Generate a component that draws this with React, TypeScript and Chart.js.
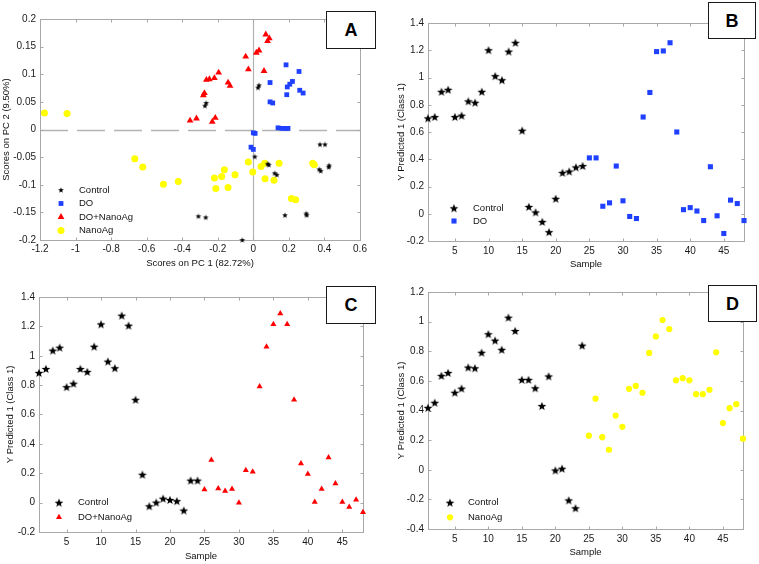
import React, { useEffect, useRef } from 'react';
import { Chart, registerables } from 'chart.js';
Chart.register(...registerables);

const FONT = '"Liberation Sans", Arial, Helvetica, sans-serif';

// ---------- Panel A (PCA scores) ----------
const A_CONTROL_X = [0.026, 0.032, -0.272, -0.265, 0.375, 0.403, 0.008, 0.081, 0.087, 0.12, 0.132, 0.371, 0.379, 0.424, 0.426, -0.309, -0.268, 0.178, 0.298, 0.3, -0.062];
const A_CONTROL_Y = [0.076, 0.08, 0.043, 0.048, -0.027, -0.027, -0.049, -0.062, -0.064, -0.079, -0.082, -0.072, -0.075, -0.068, -0.065, -0.157, -0.159, -0.155, -0.152, -0.155, -0.2];
const A_DO_X = [0.184, 0.257, 0.094, 0.22, 0.205, 0.191, 0.261, 0.28, 0.188, 0.094, 0.109, 0.139, 0.16, 0.18, 0.195, 0.0, 0.01, -0.013, 0.0];
const A_DO_Y = [0.117, 0.105, 0.085, 0.087, 0.082, 0.077, 0.071, 0.066, 0.063, 0.05, 0.048, 0.003, 0.002, 0.002, 0.002, -0.006, -0.007, -0.032, -0.036];
const A_DONANO_X = [0.07, 0.09, 0.08, 0.032, 0.017, -0.043, -0.028, 0.06, -0.195, -0.264, -0.247, -0.219, -0.142, -0.131, -0.281, -0.275, -0.356, -0.32, -0.231, -0.214];
const A_DONANO_Y = [0.172, 0.165, 0.16, 0.143, 0.139, 0.132, 0.109, 0.106, 0.103, 0.09, 0.091, 0.093, 0.085, 0.079, 0.062, 0.066, 0.016, 0.02, 0.014, 0.021];
const A_NANO_X = [-1.175, -1.048, -0.667, -0.622, -0.506, -0.422, -0.028, -0.003, 0.043, 0.064, 0.145, 0.066, 0.116, -0.163, -0.178, -0.219, -0.103, -0.211, -0.142, 0.334, 0.343, 0.214, 0.238];
const A_NANO_Y = [0.03, 0.029, -0.053, -0.068, -0.099, -0.094, -0.059, -0.077, -0.067, -0.061, -0.061, -0.089, -0.092, -0.073, -0.085, -0.088, -0.082, -0.107, -0.105, -0.061, -0.064, -0.125, -0.127];
const A_X_TICKS = [-1.2, -1, -0.8, -0.6, -0.4, -0.2, 0, 0.2, 0.4, 0.6];
const A_Y_TICKS = [-0.2, -0.15, -0.1, -0.05, 0, 0.05, 0.1, 0.15, 0.2];

// ---------- Panels B, C, D (Y predicted by sample) ----------
const CONTROL_SAMPLE_START = 1;
const TREAT_SAMPLE_START = 25;
const B_CONTROL = [0.70, 0.71, 0.895, 0.91, 0.71, 0.72, 0.825, 0.815, 0.895, 1.2, 1.01, 0.98, 1.19, 1.255, 0.61, 0.05, 0.01, -0.06, -0.135, 0.11, 0.30, 0.31, 0.34, 0.35];
const B_DO = [0.41, 0.41, 0.055, 0.08, 0.35, 0.095, -0.02, -0.035, 0.71, 0.89, 1.19, 1.195, 1.255, 0.60, 0.03, 0.045, 0.02, -0.05, 0.345, -0.015, -0.145, 0.10, 0.075, -0.05];
const C_CONTROL = [0.883, 0.91, 1.035, 1.055, 0.786, 0.81, 0.91, 0.89, 1.062, 1.214, 0.96, 0.915, 1.273, 1.205, 0.70, 0.19, -0.025, 0.0, 0.027, 0.018, 0.01, -0.054, 0.15, 0.15];
const C_DONANO = [0.09, 0.29, 0.097, 0.08, 0.093, 0.0, 0.22, 0.21, 0.79, 1.062, 1.214, 1.287, 1.214, 0.70, 0.267, 0.195, 0.005, 0.093, 0.308, 0.13, 0.005, -0.03, 0.02, -0.065];
const D_CONTROL = [0.418, 0.452, 0.634, 0.654, 0.52, 0.548, 0.69, 0.685, 0.79, 0.915, 0.872, 0.81, 1.027, 0.937, 0.607, 0.607, 0.55, 0.43, 0.63, -0.005, 0.007, -0.207, -0.26, 0.838];
const D_NANO = [0.23, 0.48, 0.22, 0.135, 0.366, 0.29, 0.546, 0.566, 0.52, 0.789, 0.90, 1.011, 0.95, 0.604, 0.618, 0.604, 0.51, 0.51, 0.54, 0.793, 0.315, 0.416, 0.443, 0.21];
const SAMPLE_TICKS = [5, 10, 15, 20, 25, 30, 35, 40, 45];
const BC_Y_TICKS = [-0.2, 0, 0.2, 0.4, 0.6, 0.8, 1, 1.2, 1.4];
const D_Y_TICKS = [-0.4, -0.2, 0, 0.2, 0.4, 0.6, 0.8, 1, 1.2];

const BLACK = '#000000';
const BLUE = '#2040ff';
const RED = '#ff0000';
const YELLOW = '#ffff00';

type Style = 'star' | 'rect' | 'triangle' | 'circle';
interface Series { label: string; style: Style; color: string; r: number; pts: { x: number; y: number }[] }

const zipXY = (xs: number[], ys: number[]) => xs.map((x, i) => ({ x, y: ys[i] }));
const bySample = (vals: number[], start: number) => vals.map((y, i) => ({ x: start + i, y }));

const starCache: Record<string, HTMLCanvasElement> = {};
function starImg(outer: number, color: string) {
  const key = outer + color;
  if (starCache[key]) return starCache[key];
  const inner = outer * 0.42;
  const size = Math.ceil(outer * 2 + 2);
  const c = document.createElement('canvas');
  c.width = size;
  c.height = size;
  const g = c.getContext('2d')!;
  g.fillStyle = color;
  g.beginPath();
  for (let i = 0; i < 10; i++) {
    const r = i % 2 === 0 ? outer : inner;
    const a = -Math.PI / 2 + (i * Math.PI) / 5;
    const px = size / 2 + r * Math.cos(a);
    const py = size / 2 + r * Math.sin(a) + outer * 0.08;
    if (i === 0) g.moveTo(px, py);
    else g.lineTo(px, py);
  }
  g.closePath();
  g.fill();
  starCache[key] = c;
  return c;
}

function drawMarker(ctx: CanvasRenderingContext2D, s: Series, x: number, y: number) {
  ctx.fillStyle = s.color;
  if (s.style === 'star') {
    const img = starImg(s.r, s.color);
    ctx.drawImage(img, x - img.width / 2, y - img.height / 2);
  } else if (s.style === 'rect') {
    const h = Math.SQRT1_2 * s.r;
    ctx.fillRect(x - h, y - h, 2 * h, 2 * h);
  } else if (s.style === 'triangle') {
    ctx.beginPath();
    for (let i = 0; i < 3; i++) {
      const a = (i * 2 * Math.PI) / 3;
      const px = x + Math.sin(a) * s.r;
      const py = y - Math.cos(a) * s.r;
      if (i === 0) ctx.moveTo(px, py);
      else ctx.lineTo(px, py);
    }
    ctx.closePath();
    ctx.fill();
  } else {
    ctx.beginPath();
    ctx.arc(x, y, s.r, 0, Math.PI * 2);
    ctx.fill();
  }
}

interface PanelCfg {
  id: string;
  letter: string;
  left: number; top: number; w: number; h: number;
  pad: { left: number; top: number; right: number; bottom: number };
  yW: number; xH: number;
  xMin: number; xMax: number; yMin: number; yMax: number;
  xTicks: number[]; yTicks: number[];
  xTitle: string; yTitle: string;
  xTitlePad: number; yTitlePad: number; xTickPad: number;
  series: Series[];
  legend: { mx: number; tx: number; rows: number[] };
  zeroLines?: boolean;
  box: { left: number; top: number; w: number; h: number };
}

const fmt = (v: number) => String(Math.round(v * 100) / 100);

const framePlugin = {
  id: 'frame',
  beforeDatasetsDraw(chart: any, _args: any, opts: any) {
    const { ctx, chartArea: a, scales } = chart;
    ctx.save();
    if (opts.zeroLines) {
      const y0 = Math.round(scales.y.getPixelForValue(0)) + 0.5;
      const x0 = Math.round(scales.x.getPixelForValue(0)) + 0.5;
      ctx.strokeStyle = '#b4b4b4';
      ctx.lineWidth = 1.6;
      ctx.setLineDash([28, 9]);
      ctx.beginPath();
      ctx.moveTo(a.left, y0);
      ctx.lineTo(a.right, y0);
      ctx.stroke();
      ctx.setLineDash([]);
      ctx.lineWidth = 1.2;
      ctx.beginPath();
      ctx.moveTo(x0, a.top);
      ctx.lineTo(x0, a.bottom);
      ctx.stroke();
    }
    ctx.strokeStyle = '#a8a8a8';
    ctx.lineWidth = 1;
    const L = Math.round(a.left) + 0.5, R = Math.round(a.right) + 0.5;
    const T = Math.round(a.top) + 0.5, B = Math.round(a.bottom) + 0.5;
    ctx.strokeRect(L, T, R - L, B - T);
    ctx.beginPath();
    for (const t of scales.x.ticks) {
      const px = Math.round(scales.x.getPixelForValue(t.value)) + 0.5;
      ctx.moveTo(px, B); ctx.lineTo(px, B - 3);
      ctx.moveTo(px, T); ctx.lineTo(px, T + 3);
    }
    for (const t of scales.y.ticks) {
      const py = Math.round(scales.y.getPixelForValue(t.value)) + 0.5;
      ctx.moveTo(L, py); ctx.lineTo(L + 3, py);
      ctx.moveTo(R, py); ctx.lineTo(R - 3, py);
    }
    ctx.stroke();
    ctx.restore();
  },
  afterDatasetsDraw(chart: any, _args: any, opts: any) {
    const { ctx } = chart;
    const cfg: PanelCfg = opts.cfg;
    if (!cfg) return;
    ctx.save();
    ctx.font = `9.5px ${FONT}`;
    ctx.textBaseline = 'middle';
    ctx.textAlign = 'left';
    cfg.series.forEach((s, i) => {
      const y = cfg.legend.rows[i];
      drawMarker(ctx, s, cfg.legend.mx, y);
      ctx.fillStyle = '#111';
      ctx.fillText(s.label, cfg.legend.tx, y);
    });
    ctx.restore();
  },
};

function Panel({ cfg }: { cfg: PanelCfg }) {
  const ref = useRef<HTMLCanvasElement>(null);
  useEffect(() => {
    const tickFont = { family: FONT, size: 10 };
    const titleFont = { family: FONT, size: 9.5 };
    const chart = new Chart(ref.current!, {
      type: 'scatter',
      data: {
        datasets: cfg.series.map((s) => ({
          label: s.label,
          data: s.pts,
          pointStyle: s.style === 'star' ? starImg(s.r, s.color) : s.style,
          pointRadius: s.r,
          pointHoverRadius: s.r,
          backgroundColor: s.color,
          borderColor: s.color,
          pointBorderWidth: 0,
          borderWidth: 0,
          clip: false,
        })) as any,
      },
      options: {
        responsive: false,
        animation: false,
        events: [],
        devicePixelRatio: 1,
        layout: { padding: cfg.pad },
        plugins: {
          legend: { display: false },
          tooltip: { enabled: false },
          frame: { cfg, zeroLines: !!cfg.zeroLines },
        } as any,
        scales: {
          x: {
            type: 'linear',
            min: cfg.xMin,
            max: cfg.xMax,
            afterBuildTicks: (s: any) => { s.ticks = cfg.xTicks.map((v) => ({ value: v })); },
            afterFit: (s: any) => { s.height = cfg.xH; },
            grid: { display: false, drawTicks: false, tickLength: 0 },
            border: { display: false },
            ticks: { padding: cfg.xTickPad, color: '#1a1a1a', font: tickFont, autoSkip: false, maxRotation: 0, callback: (v: any) => fmt(Number(v)) },
            title: { display: true, text: cfg.xTitle, color: '#111', font: titleFont, padding: { top: 0, bottom: cfg.xTitlePad } },
          },
          y: {
            type: 'linear',
            min: cfg.yMin,
            max: cfg.yMax,
            afterBuildTicks: (s: any) => { s.ticks = cfg.yTicks.map((v) => ({ value: v })); },
            afterFit: (s: any) => { s.width = cfg.yW; },
            grid: { display: false, drawTicks: false, tickLength: 0 },
            border: { display: false },
            ticks: { padding: 4, color: '#1a1a1a', font: tickFont, autoSkip: false, callback: (v: any) => fmt(Number(v)) },
            title: { display: true, text: cfg.yTitle, color: '#111', font: titleFont, padding: { top: cfg.yTitlePad, bottom: 0 } },
          },
        } as any,
      },
      plugins: [framePlugin as any],
    });
    return () => chart.destroy();
  }, [cfg]);
  const b = cfg.box;
  return (
    <>
      <div style={{ position: 'absolute', left: cfg.left, top: cfg.top, width: cfg.w, height: cfg.h }}>
        <canvas ref={ref} width={cfg.w} height={cfg.h} style={{ width: cfg.w, height: cfg.h, display: 'block' }} />
      </div>
      <div
        style={{
          position: 'absolute', left: b.left, top: b.top, width: b.w, height: b.h, boxSizing: 'border-box',
          border: '1.5px solid #1a1a1a', background: '#fff', display: 'flex', alignItems: 'center', justifyContent: 'center',
          fontFamily: FONT, fontWeight: 'bold', fontSize: 18, color: '#000', lineHeight: 1,
        }}
      >
        {cfg.letter}
      </div>
    </>
  );
}

const YP_TITLE = 'Y Predicted 1 (Class 1)';

const PANELS: PanelCfg[] = [
  {
    id: 'A', letter: 'A', left: 0, top: 0, w: 379, h: 282,
    pad: { left: 0, top: 19, right: 19, bottom: 0 }, yW: 40, xH: 42,
    xMin: -1.2, xMax: 0.6, yMin: -0.2, yMax: 0.2, xTicks: A_X_TICKS, yTicks: A_Y_TICKS,
    xTitle: 'Scores on PC 1 (82.72%)', yTitle: 'Scores on PC 2 (9.50%)',
    xTitlePad: 13.3, yTitlePad: 0.3, xTickPad: 3,
    series: [
      { label: 'Control', style: 'star', color: BLACK, r: 3, pts: zipXY(A_CONTROL_X, A_CONTROL_Y) },
      { label: 'DO', style: 'rect', color: BLUE, r: 3.4, pts: zipXY(A_DO_X, A_DO_Y) },
      { label: 'DO+NanoAg', style: 'triangle', color: RED, r: 3.9, pts: zipXY(A_DONANO_X, A_DONANO_Y) },
      { label: 'NanoAg', style: 'circle', color: YELLOW, r: 3.5, pts: zipXY(A_NANO_X, A_NANO_Y) },
    ],
    legend: { mx: 61, tx: 79, rows: [190, 203.5, 217, 230.5] },
    zeroLines: true,
    box: { left: 326, top: 11, w: 50, h: 38 },
  },
  {
    id: 'B', letter: 'B', left: 379, top: 0, w: 380, h: 282,
    pad: { left: 0, top: 23, right: 15, bottom: 0 }, yW: 49, xH: 41,
    xMin: 1, xMax: 48, yMin: -0.2, yMax: 1.4, xTicks: SAMPLE_TICKS, yTicks: BC_Y_TICKS,
    xTitle: 'Sample', yTitle: YP_TITLE, xTitlePad: 12.3, yTitlePad: 16.3, xTickPad: 4,
    series: [
      { label: 'Control', style: 'star', color: BLACK, r: 4.6, pts: bySample(B_CONTROL, CONTROL_SAMPLE_START) },
      { label: 'DO', style: 'rect', color: BLUE, r: 3.6, pts: bySample(B_DO, TREAT_SAMPLE_START) },
    ],
    legend: { mx: 75, tx: 94, rows: [208.3, 221] },
    box: { left: 708, top: 2, w: 48, h: 37 },
  },
  {
    id: 'C', letter: 'C', left: 0, top: 282, w: 379, h: 282,
    pad: { left: 0, top: 15, right: 16, bottom: 0 }, yW: 39, xH: 32,
    xMin: 1, xMax: 48, yMin: -0.2, yMax: 1.4, xTicks: SAMPLE_TICKS, yTicks: BC_Y_TICKS,
    xTitle: 'Sample', yTitle: YP_TITLE, xTitlePad: 2.3, yTitlePad: 4.8, xTickPad: 4,
    series: [
      { label: 'Control', style: 'star', color: BLACK, r: 4.6, pts: bySample(C_CONTROL, CONTROL_SAMPLE_START) },
      { label: 'DO+NanoAg', style: 'triangle', color: RED, r: 3.5, pts: bySample(C_DONANO, TREAT_SAMPLE_START) },
    ],
    legend: { mx: 59, tx: 78, rows: [220.7, 235.3] },
    box: { left: 326, top: 286, w: 50, h: 38 },
  },
  {
    id: 'D', letter: 'D', left: 379, top: 282, w: 380, h: 282,
    pad: { left: 0, top: 9, right: 16, bottom: 0 }, yW: 49, xH: 35,
    xMin: 1, xMax: 48, yMin: -0.4, yMax: 1.2, xTicks: SAMPLE_TICKS, yTicks: D_Y_TICKS,
    xTitle: 'Sample', yTitle: YP_TITLE, xTitlePad: 5.6, yTitlePad: 16.3, xTickPad: 4,
    series: [
      { label: 'Control', style: 'star', color: BLACK, r: 4.6, pts: bySample(D_CONTROL, CONTROL_SAMPLE_START) },
      { label: 'NanoAg', style: 'circle', color: YELLOW, r: 3.1, pts: bySample(D_NANO, TREAT_SAMPLE_START) },
    ],
    legend: { mx: 71, tx: 89, rows: [220.7, 235.3] },
    box: { left: 708, top: 285, w: 49, h: 37 },
  },
];

export default function App() {
  return (
    <div style={{ position: 'fixed', left: 0, top: 0, width: 759, height: 564, background: '#fff', overflow: 'hidden' }}>
      {PANELS.map((p) => (
        <Panel key={p.id} cfg={p} />
      ))}
    </div>
  );
}
